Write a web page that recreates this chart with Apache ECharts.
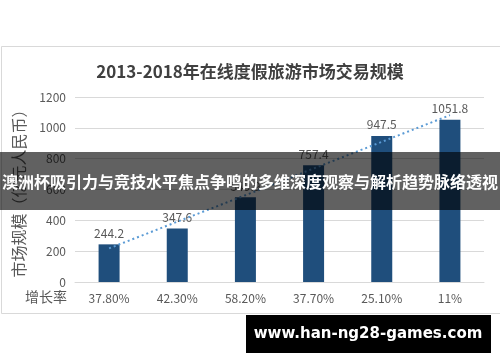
<!DOCTYPE html>
<html>
<head>
<meta charset="utf-8">
<script src="https://cdn.jsdelivr.net/npm/echarts@6/dist/echarts.min.js"></script>
<style>html,body{margin:0;padding:0;background:#fff;}#c{width:500px;height:362px;}</style>
</head>
<body>
<div id="c"></div>
<script>
var years = ['2013','2014','2015','2016','2017','2018'];
var growthLabels = ['37.80%','42.30%','58.20%','37.70%','25.10%','11%'];
var marketValues = [244.2, 347.6, 549.9, 757.4, 947.5, 1051.8];
var trendValues = [218, 391, 563, 736, 909, 1082];
var yTicks = [0, 200, 400, 600, 800, 1000, 1200];

var FONT = '"Noto Sans CJK SC", "Noto Sans", sans-serif';
var chart = echarts.init(document.getElementById('c'), null, {renderer: 'canvas'});
chart.setOption({
  backgroundColor: '#ffffff',
  animation: false,
  title: {
    text: '2013-2018年在线度假旅游市场交易规模',
    left: 'center',
    top: 58,
    textStyle: {fontFamily: FONT, fontSize: 17, fontWeight: 'bold', color: '#404040'}
  },
  grid: {left: 75, right: 16, top: 97, bottom: 80},
  xAxis: {
    type: 'category',
    data: growthLabels,
    axisLine: {show: true, lineStyle: {color: '#d9d9d9', width: 1}},
    axisTick: {show: false},
    axisLabel: {color: '#595959', fontSize: 12, fontFamily: FONT, margin: 10},
    name: '增长率',
    nameLocation: 'start',
    nameGap: 8,
    nameTextStyle: {color: '#595959', fontSize: 14, fontFamily: FONT, verticalAlign: 'top', padding: [8, 0, 0, 0]}
  },
  yAxis: {
    type: 'value',
    min: yTicks[0],
    max: yTicks[yTicks.length - 1],
    interval: 200,
    axisLine: {show: false},
    axisTick: {show: false},
    splitLine: {lineStyle: {color: '#d9d9d9', width: 1}},
    axisLabel: {color: '#595959', fontSize: 12, fontFamily: FONT, margin: 9, formatter: function (v) { return String(v); }},
    name: '市场规模（亿元人民币）',
    nameLocation: 'middle',
    nameRotate: 90,
    nameGap: 48,
    nameTextStyle: {color: '#595959', fontSize: 16, fontFamily: FONT}
  },
  series: [
    {
      type: 'bar',
      data: marketValues,
      barWidth: 21,
      itemStyle: {color: '#1f4e7c'},
      label: {show: true, position: 'top', distance: 5, color: '#595959', fontSize: 12, fontFamily: FONT},
      z: 2
    },
    {
      type: 'line',
      data: trendValues,
      symbol: 'none',
      lineStyle: {color: '#5b9bd5', width: 2, type: [2, 3]},
      z: 3
    }
  ],
  graphic: [
    {type: 'rect', shape: {x: 1.5, y: 46.5, width: 520, height: 267}, style: {fill: 'none', stroke: '#d9d9d9', lineWidth: 1}, z: 1},
    {type: 'rect', shape: {x: 0, y: 152, width: 500, height: 58}, style: {fill: 'rgba(0,0,0,0.62)'}, z: 100},
    {type: 'text', x: 250, y: 182, style: {text: '澳洲杯吸引力与竞技水平焦点争鸣的多维深度观察与解析趋势脉络透视', fill: '#ffffff', font: 'bold 16px "Noto Sans CJK SC", sans-serif', align: 'center', verticalAlign: 'middle'}, z: 101},
    {type: 'rect', shape: {x: 246, y: 315, width: 245, height: 38}, style: {fill: '#000000'}, z: 100},
    {type: 'text', x: 368, y: 334, style: {text: 'www.han-ng28-games.com', fill: '#ffffff', font: 'bold 15px "DejaVu Sans", sans-serif', align: 'center', verticalAlign: 'middle'}, z: 101}
  ]
});
</script>
</body>
</html>
